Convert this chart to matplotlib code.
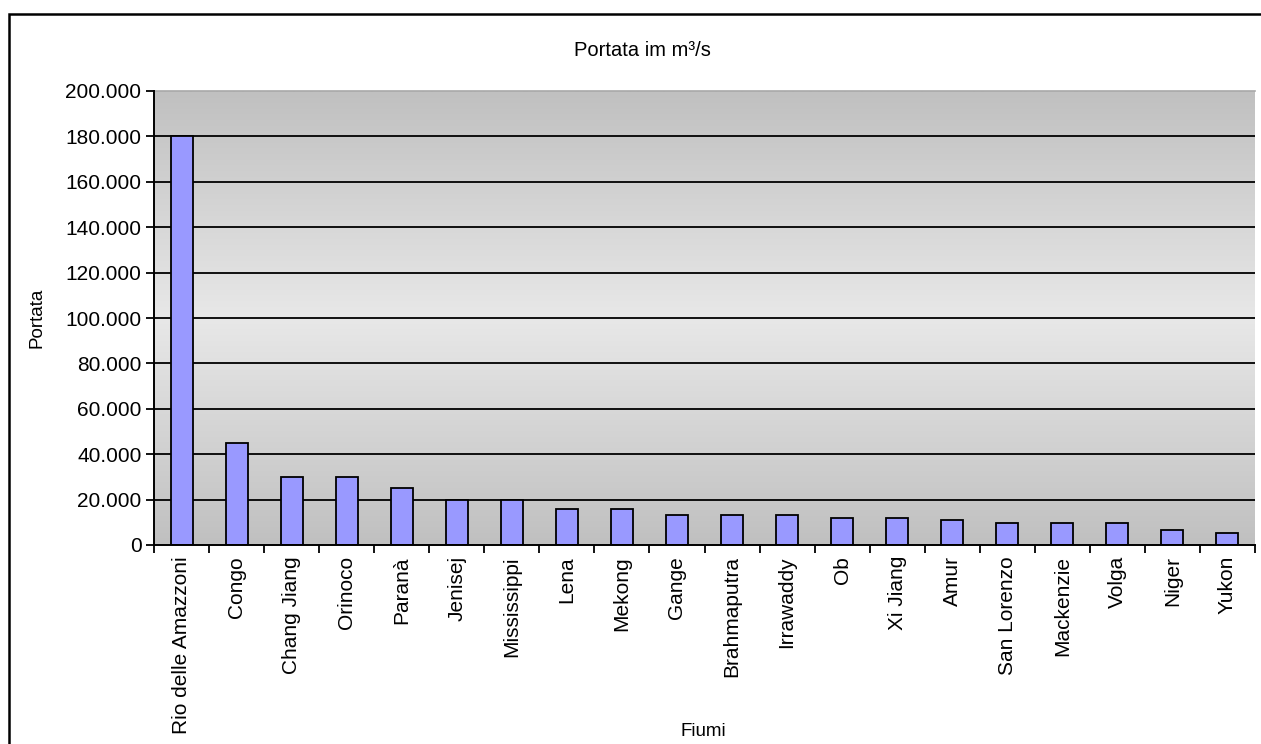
import matplotlib.pyplot as plt
import numpy as np
from matplotlib.patches import Rectangle
from matplotlib.ticker import FuncFormatter, MultipleLocator, FixedLocator

plt.rcParams['font.family'] = ['Liberation Sans', 'DejaVu Sans']

# Portata media dei fiumi (m3/s)
fiumi = ['Rio delle Amazzoni', 'Congo', 'Chang Jiang', 'Orinoco', 'Paranà',
         'Jenisej', 'Mississippi', 'Lena', 'Mekong', 'Gange', 'Brahmaputra',
         'Irrawaddy', 'Ob', 'Xi Jiang', 'Amur', 'San Lorenzo', 'Mackenzie',
         'Volga', 'Niger', 'Yukon']
portata = [180000, 45000, 30000, 30000, 25000,
           20000, 20000, 16000, 16000, 13000, 13000,
           13000, 12000, 12000, 11000, 9500, 9500,
           9500, 6700, 5100]

W, H = 1261, 744
fig = plt.figure(figsize=(W / 100, H / 100), dpi=100)

# plot area in pixel coords
left, right, top, bottom = 154, 1255, 91, 545
ax = fig.add_axes([left / W, 1 - bottom / H, (right - left) / W, (bottom - top) / H])

# background gradient: dark at top and bottom, light in the middle
t = np.linspace(0, 1, 256)
shade = 192 + 40 * (1 - np.abs(t - 0.5) * 2)
grad = np.repeat(shade[:, None], 2, axis=1) / 255.0
ax.imshow(np.dstack([grad, grad, grad]), extent=[-0.5, len(fiumi) - 0.5, 0, 200000],
          aspect='auto', zorder=0, interpolation='bilinear')

x = np.arange(len(fiumi))
ax.bar(x, portata, width=0.4, color='#9999FF', edgecolor='black', linewidth=1.3, zorder=3)

ax.set_xlim(-0.5, len(fiumi) - 0.5)
ax.set_ylim(0, 200000)

ax.yaxis.set_major_locator(MultipleLocator(20000))
ax.yaxis.set_major_formatter(FuncFormatter(lambda v, p: f'{int(v):,}'.replace(',', '.')))
for yv in range(20000, 200000, 20000):
    ax.axhline(yv, color='black', linewidth=1.3, zorder=2)

# ticks between categories, labels centered on bars
ax.xaxis.set_major_locator(FixedLocator(np.arange(-0.5, len(fiumi), 1)))
ax.xaxis.set_major_formatter(FuncFormatter(lambda v, p: ''))
ax.xaxis.set_minor_locator(FixedLocator(x))
ax.set_xticklabels(fiumi, minor=True, rotation=90, fontsize=15)
ax.tick_params(axis='x', which='minor', length=0, pad=8)
ax.tick_params(axis='x', which='major', length=6, width=1.3, direction='out')
ax.tick_params(axis='y', length=6, width=1.3, direction='out', labelsize=15, pad=3)

ax.spines['right'].set_visible(False)
ax.spines['top'].set_color('#A8A8A8')
ax.spines['top'].set_linewidth(1.2)
for s in ('left', 'bottom'):
    ax.spines[s].set_linewidth(1.4)
    ax.spines[s].set_zorder(4)

fig.text(642 / W, 1 - 50 / H, 'Portata im m³/s', ha='center', va='center', fontsize=14.5)
fig.text(37 / W, 1 - 318 / H, 'Portata', ha='center', va='center', rotation=90, fontsize=13.5)
fig.text(703 / W, 1 - 731 / H, 'Fiumi', ha='center', va='center', fontsize=13.5)

# chart border
fig.add_artist(Rectangle((9 / W, -0.1), 1.2, 1 - 14 / H + 0.1, transform=fig.transFigure,
                         fill=False, edgecolor='black', linewidth=1.8))

fig.savefig('out.png', dpi=100, facecolor='white')
